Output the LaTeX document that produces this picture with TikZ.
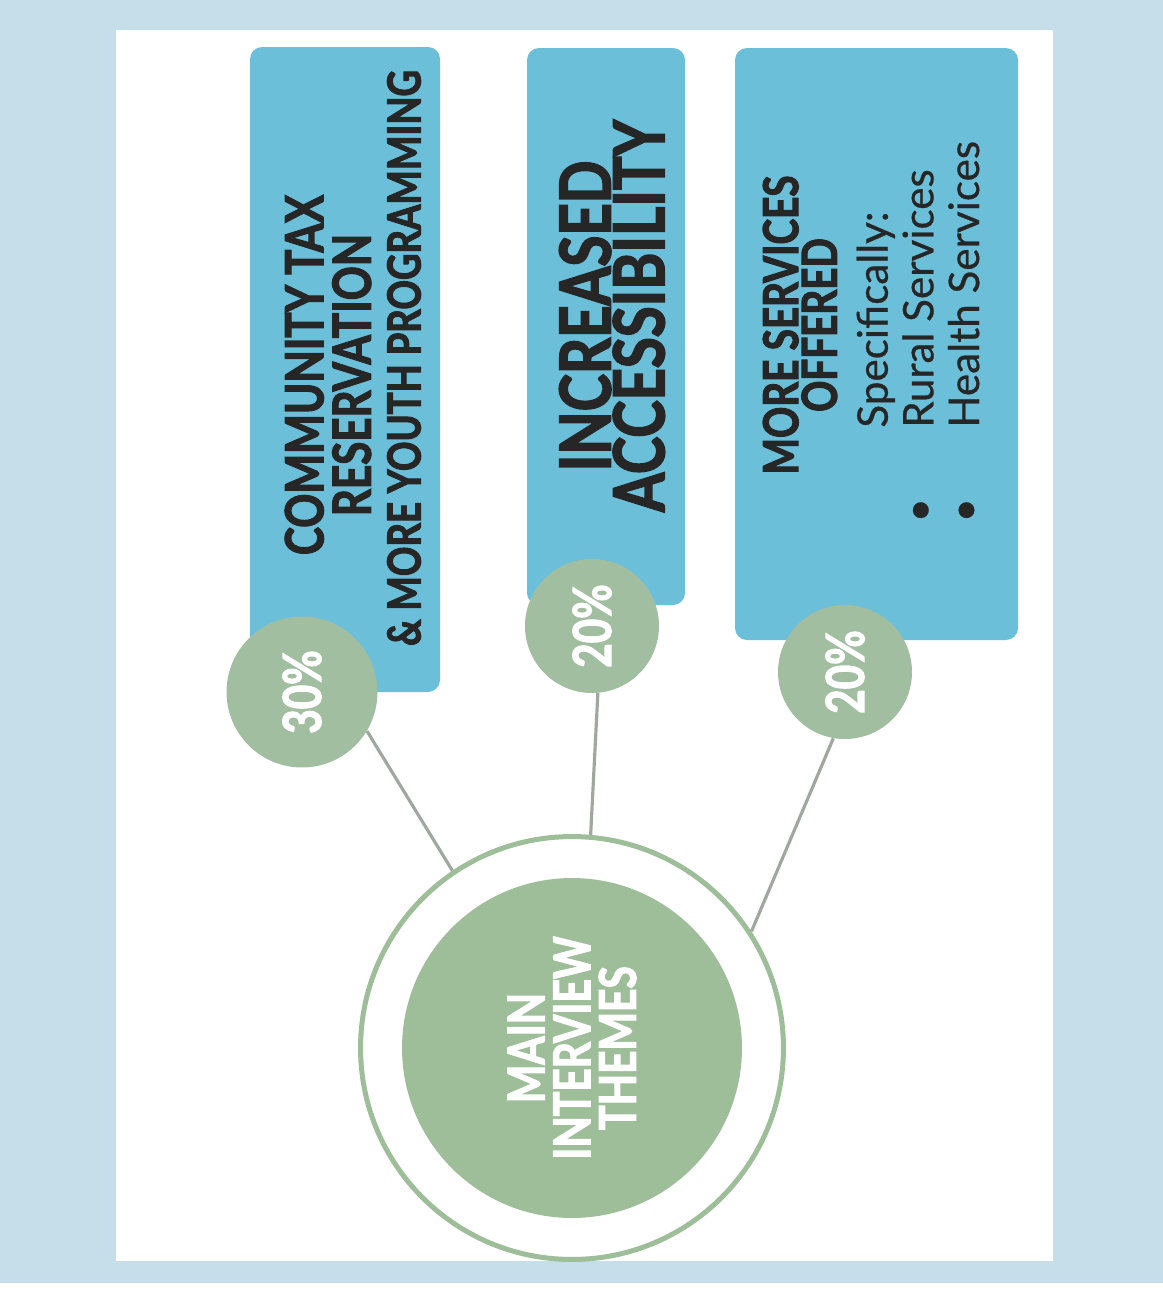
\documentclass[tikz,border=0pt]{standalone}
\usepackage{fontspec}
\usepackage{graphicx}
\setmainfont[FakeBold=0.6]{Lato}
\newfontfamily\headfont[FakeStretch=0.8, FakeBold=2.2]{Lato}
\usetikzlibrary{positioning,calc}

\definecolor{bgblue}{HTML}{C6DEEA}
\definecolor{boxblue}{HTML}{6CBFD9}
\definecolor{sagelight}{HTML}{A2BEA0}
\definecolor{sage}{HTML}{9DBE98}
\definecolor{linkgray}{HTML}{9FA89F}
\definecolor{inkdark}{HTML}{262626}

\tikzset{
  themebox/.style={fill=boxblue, rounded corners=0.24cm},
  pct/.style={circle, fill=sagelight, inner sep=0pt, minimum size=#1, text=white,
              font={\headfont\bfseries\fontsize{30}{30}\selectfont}},
  headtxt/.style={rotate=90, align=center, inner sep=0pt, text=inkdark},
  link/.style={draw=linkgray, line width=1.8pt}
}

\begin{document}
\begin{tikzpicture}[x=0.02cm, y=-0.02cm]
  % Define dimensions
  \def\W{1163}
  \def\H{1295}
  % Background and page
  \fill[white] (0,0) rectangle (\W,\H);
  \fill[bgblue] (0,0) rectangle (\W,1283);
  \fill[white] (116,30) rectangle (1053,1261);

  % Define box corners
  \coordinate (A1) at (250,47);  \coordinate (A2) at (440,692);
  \coordinate (B1) at (527,48);  \coordinate (B2) at (685,605);
  \coordinate (C1) at (735,48);  \coordinate (C2) at (1018,640);
  % Draw boxes
  \foreach \a/\b in {A1/A2, B1/B2, C1/C2}
      \fill[themebox] (\a) rectangle (\b);

  % Box texts
  \node[headtxt, font={\headfont\bfseries\fontsize{30}{27}\selectfont}] (tax) at (328,375)
      {COMMUNITY TAX\\RESERVATION};
  \node[headtxt, font={\headfont\bfseries\fontsize{26}{26}\selectfont}] (youth) at (404,358)
      {\& MORE YOUTH PROGRAMMING};
  \node[headtxt, font={\headfont\bfseries\fontsize{40}{29}\selectfont}] (access) at (612,316)
      {INCREASED\\ACCESSIBILITY};
  \node[headtxt, font={\headfont\bfseries\fontsize{27.5}{22}\selectfont}] (serv) at (800,325)
      {MORE SERVICES\\OFFERED};
  \node[headtxt, align=left, anchor=west, font={\fontsize{24}{26}\selectfont}] (spec) at (918,428)
      {Specifically:\\
       \llap{\textbullet\hspace{40pt}}Rural Services\\
       \llap{\textbullet\hspace{40pt}}Health Services};

  % Percent circles
  \node[pct=3.02cm] (p1) at (302,692) {\rotatebox{90}{30\%}};
  \node[pct=2.68cm] (p2) at (592,626) {\rotatebox{90}{20\%}};
  \node[pct=2.68cm] (p3) at (845,672) {\rotatebox{90}{20\%}};

  % Main circle
  \node[circle, draw=sage, line width=2.85pt, minimum size=8.46cm, inner sep=0pt] (ring) at (572,1048) {};
  \node[circle, fill=sage, minimum size=6.8cm, inner sep=0pt, rotate=90, align=center, text=white,
        font={\headfont\bfseries\fontsize{29}{26}\selectfont}] (main) at (572,1048)
      {MAIN\\INTERVIEW\\THEMES};

  % Connectors
  \draw[link] (p1.-31) -- (ring.124);
  \draw[link] (p2.-85) -- (ring.85);
  \draw[link] (p3.-100) -- (ring.33);
\end{tikzpicture}
\end{document}
